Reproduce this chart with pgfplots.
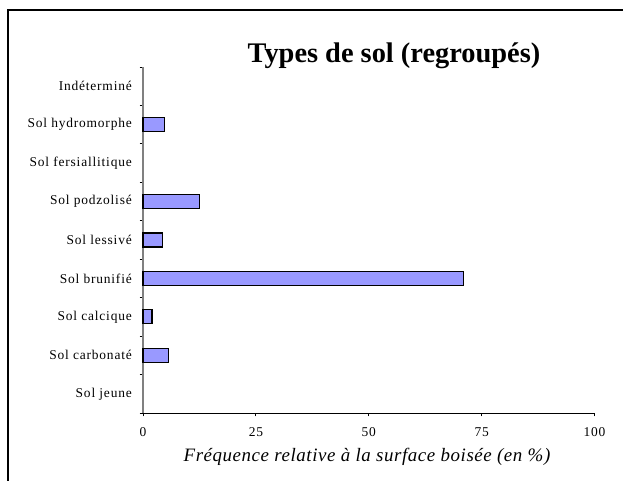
\documentclass[border=0pt]{standalone}
\usepackage{fontspec}
\setmainfont{Liberation Serif}
\newfontfamily\tickfont{Liberation Serif}[LetterSpace=6]
\newfontfamily\labfont{Liberation Serif}[LetterSpace=3]
\usepackage{pgfplots}
\pgfplotsset{compat=1.18}
\definecolor{barcol}{HTML}{9999FF}
\definecolor{axgray}{HTML}{808080}
\begin{document}
\begin{tikzpicture}[x=1bp,y=1bp]
\useasboundingbox (0,0) rectangle (623,481);
\draw[line width=1.6bp] (8,0) -- (8,471) -- (623,471);
\begin{axis}[
  at={(143bp,68bp)}, anchor=south west,
  width=451.5bp, height=346bp, scale only axis,
  xmin=0, xmax=100, ymin=-0.5, ymax=8.5,
  axis x line*=bottom, axis y line*=left,
  x axis line style={black, line width=0.9bp, -},
  y axis line style={axgray, line width=1.2bp, -},
  tick align=outside,
  major tick length=3.5bp,
  xtick={0,25,50,75,100},
  x tick style={black, line width=0.8bp},
  y tick style={black, line width=0.8bp},
  xticklabel style={font=\tickfont\fontsize{13.5}{14}\selectfont, inner sep=0pt, anchor=north, yshift=-11bp},
  /pgf/number format/assume math mode=true,
  ytick={-0.5,0.5,...,8.5},
  yticklabels={},
  extra y ticks={0,1,2,3,4,5,6,7,8},
  extra y tick labels={Sol jeune,Sol carbonaté,Sol calcique,Sol brunifié,Sol lessivé,Sol podzolisé,Sol fersiallitique,Sol hydromorphe,Indéterminé},
  extra y tick style={major tick length=0pt, yticklabel style={font=\tickfont\fontsize{13.5}{14}\selectfont, inner sep=0pt, anchor=east, xshift=-11bp}},
  clip=false,
]
\addplot[xbar, bar width=14bp, fill=barcol, draw=black, line width=1.1bp]
  coordinates {(5.6,1) (2.0,2) (70.9,3) (4.4,4) (12.6,5) (4.8,7)};
\end{axis}
\node[anchor=base, inner sep=0pt, font=\fontsize{28.5}{30}\selectfont\bfseries] at (394,418) {Types de sol (regroupés)};
\node[anchor=base, inner sep=0pt, font=\labfont\fontsize{19}{21}\selectfont\itshape] at (367,19) {Fréquence relative à la surface boisée (en \%)};
\end{tikzpicture}
\end{document}
